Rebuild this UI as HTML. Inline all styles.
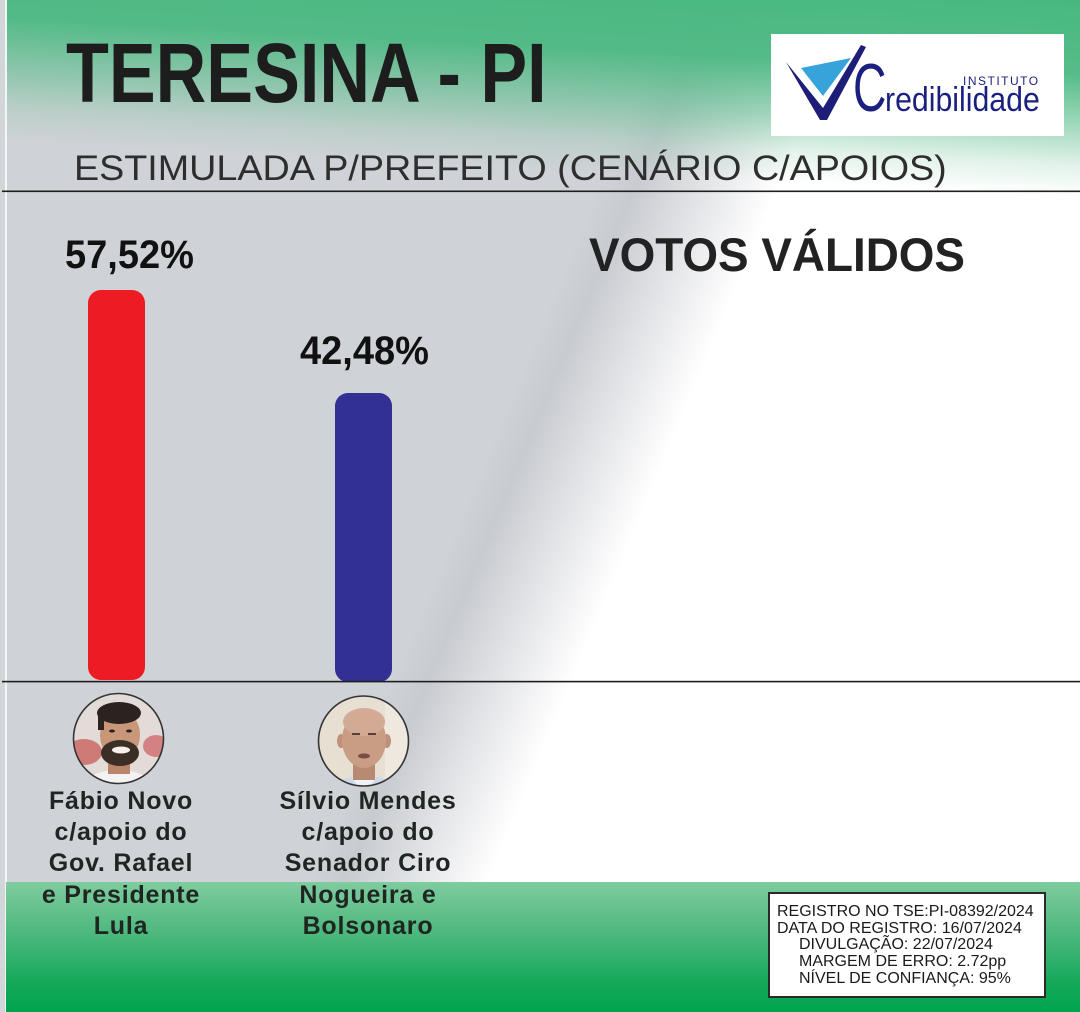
<!DOCTYPE html>
<html><head><meta charset="utf-8"><style>
html,body{margin:0;padding:0}
body{width:1080px;height:1012px;position:relative;overflow:hidden;font-family:"Liberation Sans",Arial,sans-serif;
background:
 linear-gradient(183deg, rgba(72,184,128,1) 0%, rgba(76,185,131,0.95) 7%, rgba(90,188,138,0.55) 12%, rgba(110,192,150,0.2) 15.5%, rgba(255,255,255,0) 18.5%),
 linear-gradient(112.7deg, #cfd2d6 0%, #cfd2d6 45%, #c8cbd0 47.5%, #e3e4e7 52%, #ffffff 57%, #ffffff 100%);}
.a{position:absolute;white-space:nowrap;line-height:1}
.names{position:absolute;width:240px;text-align:center;font-weight:bold;font-size:25px;letter-spacing:0.8px;line-height:31.3px;color:#1f2622}
</style></head><body>

<div style="position:absolute;left:0;top:0;width:5px;height:1012px;background:#d3d6d9"></div>
<div style="position:absolute;left:5px;top:0;width:1.5px;height:1012px;background:#f4f5f6"></div>

<div style="position:absolute;left:6px;top:882px;width:1074px;height:130px;background:linear-gradient(to bottom,#7fcc9f 0%,#4cb87c 40%,#12a858 80%,#00a44f 100%)"></div>

<svg width="1080" height="1012" style="position:absolute;left:0;top:0" xmlns="http://www.w3.org/2000/svg">
 <defs>
  <clipPath id="c1"><circle cx="118.5" cy="738.5" r="44.5"/></clipPath>
  <clipPath id="c2"><circle cx="363.5" cy="741" r="44.5"/></clipPath>
 </defs>
 <!-- logo -->
 <rect x="771" y="34" width="293" height="102" fill="#ffffff"/>
 <polygon points="786,62 823,108 861,45 866,47 827,120 820,120" fill="#1e1e78"/>
 <polygon points="797,66 855,55 823,101" fill="#ffffff"/>
 <polygon points="801,68 851,58 823,96" fill="#36a3db"/>
 <!-- bars -->
 <rect x="88" y="290" width="57" height="390" rx="13" fill="#ed1c24"/>
 <rect x="335" y="393" width="57" height="289" rx="13" fill="#323092"/>
 <!-- lines -->
 <rect x="2" y="190.5" width="1078" height="1.6" fill="#1e1e1e"/>
 <rect x="2" y="680.8" width="1078" height="1.6" fill="#1e1e1e"/>
 <!-- photo 1 -->
 <g clip-path="url(#c1)">
  <rect x="70" y="690" width="100" height="100" fill="#e2dbd8"/>
  <ellipse cx="84" cy="752" rx="18" ry="13" fill="#c75a57" opacity="0.75"/>
  <ellipse cx="156" cy="746" rx="13" ry="11" fill="#cf6464" opacity="0.75"/>
  <ellipse cx="118" cy="796" rx="42" ry="26" fill="#f3f3f3"/>
  <rect x="108" y="752" width="22" height="22" fill="#b98467"/>
  <ellipse cx="120" cy="735" rx="20" ry="25" fill="#c8977a"/>
  <ellipse cx="119" cy="713" rx="22" ry="11" fill="#2b231f"/>
  <rect x="98" y="712" width="6" height="18" fill="#2b231f"/>
  <ellipse cx="120" cy="753" rx="19" ry="13" fill="#3b2e27"/>
  <ellipse cx="121" cy="750" rx="9" ry="3.5" fill="#f5f0ea"/>
  <ellipse cx="112" cy="731" rx="3" ry="1.5" fill="#2a1f1a"/>
  <ellipse cx="129" cy="731" rx="3" ry="1.5" fill="#2a1f1a"/>
 </g>
 <circle cx="118.5" cy="738.5" r="45" fill="none" stroke="#353535" stroke-width="1.6"/>
 <!-- photo 2 -->
 <g clip-path="url(#c2)">
  <rect x="315" y="692" width="100" height="100" fill="#e6dfd2"/>
  <rect x="385" y="692" width="30" height="100" fill="#eee8de"/>
  <ellipse cx="364" cy="802" rx="46" ry="26" fill="#cfd9e8"/>
  <polygon points="352,778 376,778 364,795" fill="#eef2f7"/>
  <rect x="353" y="762" width="22" height="18" fill="#b98a72"/>
  <ellipse cx="341" cy="741" rx="4" ry="7" fill="#c0907a"/>
  <ellipse cx="387" cy="741" rx="4" ry="7" fill="#c0907a"/>
  <ellipse cx="364" cy="740" rx="22" ry="28" fill="#c99c84"/>
  <ellipse cx="364" cy="722" rx="21" ry="14" fill="#d3ab94"/>
  <rect x="352" y="733" width="8" height="2" fill="#5a4036"/>
  <rect x="368" y="733" width="8" height="2" fill="#5a4036"/>
  <ellipse cx="364" cy="756" rx="6" ry="2.5" fill="#7a4c42"/>
 </g>
 <circle cx="363.5" cy="741" r="45" fill="none" stroke="#353535" stroke-width="1.6"/>
 <!-- info box -->
 <rect x="769" y="893" width="276" height="104" fill="#ffffff" stroke="#2a2a2a" stroke-width="2"/>
</svg>

<!-- logo text -->
<div class="a" style="left:853px;top:54px;font-size:68px;color:#1b1f7e;transform:scaleX(0.68);transform-origin:0 0">C</div>
<div class="a" style="left:885px;top:83.2px;font-size:34px;color:#1b1f7e;transform:scaleX(0.89);transform-origin:0 0">redibilidade</div>
<div class="a" style="left:963px;top:74.8px;font-size:12px;color:#1b1f7e;letter-spacing:1.5px">INSTITUTO</div>

<!-- title -->
<div class="a" style="left:66px;top:31px;font-size:84px;font-weight:bold;color:#1d1d1d;transform:scaleX(0.835);transform-origin:0 0">TERESINA - PI</div>
<div class="a" style="left:74px;top:151.4px;font-size:35px;color:#2e2e2e;transform:scaleX(1.077);transform-origin:0 0">ESTIMULADA P/PREFEITO (CENÁRIO C/APOIOS)</div>

<div class="a" style="left:589px;top:231.2px;font-size:47px;font-weight:bold;color:#222;transform:scaleX(0.975);transform-origin:0 0">VOTOS VÁLIDOS</div>

<div class="a" style="left:65px;top:235px;font-size:40px;font-weight:bold;color:#111;transform:scaleX(0.95);transform-origin:0 0">57,52%</div>
<div class="a" style="left:300px;top:331px;font-size:40px;font-weight:bold;color:#111;transform:scaleX(0.95);transform-origin:0 0">42,48%</div>

<div class="names" style="left:1px;top:785.7px">Fábio Novo<br>c/apoio do<br>Gov. Rafael<br>e Presidente<br>Lula</div>
<div class="names" style="left:248px;top:785.7px">Sílvio Mendes<br>c/apoio do<br>Senador Ciro<br>Nogueira e<br>Bolsonaro</div>

<div style="position:absolute;left:777px;top:904px;font-size:16px;line-height:16.7px;color:#1a1a1a;white-space:nowrap">
REGISTRO NO TSE:PI-08392/2024<br>
DATA DO REGISTRO: 16/07/2024<br>
<span style="padding-left:22px">DIVULGAÇÃO: 22/07/2024</span><br>
<span style="padding-left:22px">MARGEM DE ERRO: 2.72pp</span><br>
<span style="padding-left:22px">NÍVEL DE CONFIANÇA: 95%</span>
</div>

</body></html>
